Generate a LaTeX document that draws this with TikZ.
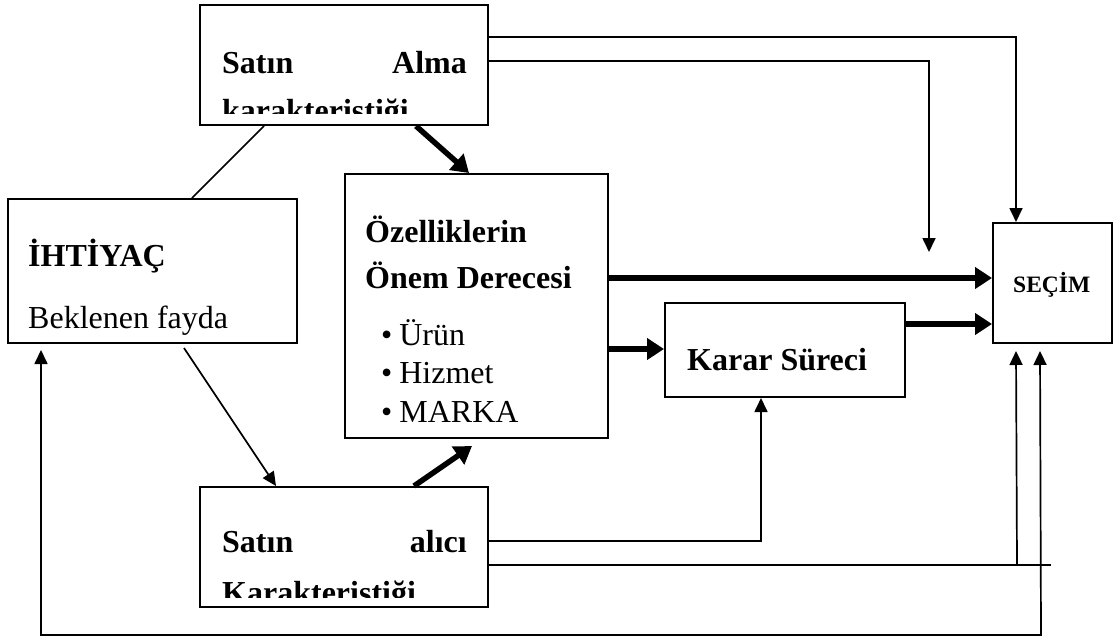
\documentclass[tikz,border=0pt]{standalone}
\usepackage{fontspec}
\setmainfont{Liberation Serif}
\usetikzlibrary{arrows.meta}
\begin{document}
\begin{tikzpicture}[x=1pt,y=-1pt,
  box/.style={draw,line width=2pt,inner sep=0pt},
  txt/.style={inner sep=0pt,font=\fontsize{32}{38}\selectfont},
  bold/.style={txt,font=\fontsize{32}{38}\selectfont\bfseries},
  thinarr/.style={line width=1.7pt,-{Triangle[length=14pt,width=13pt]}},
  thinline/.style={line width=1.7pt},
  thickarr/.style={line width=5.5pt,-{Triangle[length=17pt,width=21pt]}}]
\useasboundingbox (0,0) rectangle (1118,637);

% boxes
\node[box,minimum width=288pt,minimum height=120pt] (buy) at (344,65) {};
\node[box,minimum width=289pt,minimum height=144pt] (need) at (152.5,271) {};
\node[box,minimum width=263pt,minimum height=264pt] (feat) at (476.5,306) {};
\node[box,minimum width=240pt,minimum height=94pt] (dec) at (785,350) {};
\node[box,minimum width=119pt,minimum height=120pt] (sel) at (1052.5,283) {};
\node[box,minimum width=288pt,minimum height=120pt] (buyer) at (344,547) {};

% texts
\node[bold,anchor=base west] (buyA) at (222,73) {Satın};
\node[bold,anchor=base east] (buyB) at (467,73) {Alma};
\begin{scope}
  \clip (200,5) rectangle (488,113);
  \node[bold,anchor=base west] (buyC) at (222,121) {karakteristiği};
\end{scope}

\node[bold,anchor=base west] (needA) at (28,266) {İHTİYAÇ};
\node[txt,anchor=base west] (needB) at (28,328) {Beklenen fayda};

\node[bold,anchor=base west] (featA) at (365,242) {Özelliklerin};
\node[bold,anchor=base west] (featB) at (365,288) {Önem Derecesi};
\node[txt,anchor=base west] (featC) at (381,345) {\textbullet\hspace{7pt}Ürün};
\node[txt,anchor=base west] (featD) at (381,383) {\textbullet\hspace{7pt}Hizmet};
\node[txt,anchor=base west] (featE) at (381,422) {\textbullet\hspace{7pt}MARKA};

\node[bold,anchor=base west] (decA) at (687,370) {Karar Süreci};
\node[inner sep=0pt,font=\fontsize{23.5}{28}\selectfont\bfseries,anchor=base west] (selA) at (1013,292) {SEÇİM};

\node[bold,anchor=base west] (buyerA) at (222,552) {Satın};
\node[bold,anchor=base east] (buyerB) at (467,552) {alıcı};
\begin{scope}
  \clip (200,487) rectangle (488,597);
  \node[bold,anchor=base west] (buyerC) at (222,603) {Karakteristiği};
\end{scope}

% free ends and junctions
\coordinate (drop) at (929,252);
\coordinate (join) at (1017,565);
\coordinate (tail) at (1051,565);
\coordinate (loopR) at (1041,635);

% connectors
\draw[thinarr] (buy.east |- 0,37) -| ([xshift=24pt]sel.north west);
\draw[thinarr] (buy.east |- 0,61) -| (drop);
\draw[thinline] ([xshift=65pt]buy.south west) -- ([xshift=185pt]need.north west);
\draw[thickarr] ([xshift=217pt]buy.south west) -- ([xshift=125pt]feat.north west);
\draw[thinarr] ([xshift=177pt,yshift=-4pt]need.south west) -- ([xshift=77pt]buyer.north west);
\draw[thickarr] ([xshift=215pt]buyer.north west) -- ([xshift=128pt,yshift=-7pt]feat.south west);
\draw[thickarr] (feat.east |- 0,278) -- (sel.west |- 0,278);
\draw[thickarr] (feat.east |- 0,349) -- (dec.west |- 0,349);
\draw[thickarr] (dec.east |- 0,324) -- (sel.west |- 0,324);
\draw[thinarr] (buyer.east |- 0,541) -| ([xshift=97pt]dec.south west);
\draw[thinline] (buyer.east |- 0,565) -- (tail);
\draw[thinarr] (join) -- ([xshift=24pt,yshift=-7pt]sel.south west);
\draw[thinline,{Triangle[length=14pt,width=13pt]}-{Triangle[length=14pt,width=13pt]}]
  ([xshift=34pt,yshift=-6pt]need.south west) |- (loopR) -- ([xshift=48pt,yshift=-7pt]sel.south west);
\end{tikzpicture}
\end{document}
